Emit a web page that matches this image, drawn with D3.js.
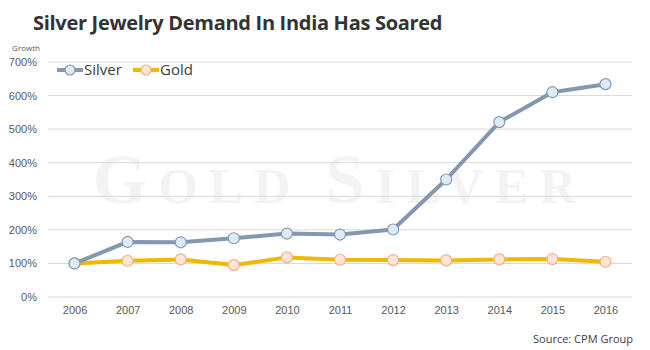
<!DOCTYPE html>
<html>
<head>
<meta charset="utf-8">
<script src="https://cdn.jsdelivr.net/npm/d3@7"></script>
<style>
  body { margin: 0; background: #fff; }
  svg { display: block; font-family: "Open Sans", "Noto Sans", sans-serif; }
</style>
</head>
<body>
<svg id="chart" width="650" height="350"></svg>
<script>
const years = ["2006", "2007", "2008", "2009", "2010", "2011", "2012", "2013", "2014", "2015", "2016"];
const silver = [100, 164, 163, 175, 189, 186, 201, 350, 521, 610, 634];
const gold = [100, 108, 112, 95, 118, 111, 110, 109, 112, 113, 105];
const yTicks = [0, 100, 200, 300, 400, 500, 600, 700];

const svg = d3.select("#chart"),
    margin = { top: 62, right: 18, bottom: 53, left: 48 },
    width = +svg.attr("width") - margin.left - margin.right,
    height = +svg.attr("height") - margin.top - margin.bottom;

// watermark behind everything
const wm = svg.append("text")
    .attr("x", 340)
    .attr("y", 203)
    .attr("text-anchor", "middle")
    .style("font-family", "'Liberation Serif', 'DejaVu Serif', serif")
    .style("font-weight", "bold")
    .style("letter-spacing", "11px")
    .style("fill", "#f3f3f3");
[["G", 70], ["OLD ", 51], ["S", 70], ["ILVER", 51]].forEach(([t, s]) => {
    wm.append("tspan").style("font-size", s + "px").text(t);
});

const chart = svg.append("g").attr("transform", `translate(${margin.left},${margin.top})`);

const x = d3.scalePoint().domain(years).range([0, width]).padding(0.5);
const y = d3.scaleLinear().domain([0, 700]).range([height, 0]);

// gridlines
chart.append("g")
    .selectAll("line")
    .data(yTicks)
    .join("line")
    .attr("x1", 0)
    .attr("x2", width)
    .attr("y1", d => y(d))
    .attr("y2", d => y(d))
    .style("stroke", "#d9d9d9")
    .style("stroke-width", 1);

const yAxis = chart.append("g")
    .call(d3.axisLeft(y).tickValues(yTicks).tickFormat(d => d + "%").tickSize(0).tickPadding(11));
yAxis.select(".domain").remove();
yAxis.selectAll("text").style("font-size", "11px").style("fill", "#595959");

const xAxis = chart.append("g")
    .attr("transform", `translate(0,${height})`)
    .call(d3.axisBottom(x).tickSize(0).tickPadding(9));
xAxis.select(".domain").remove();
xAxis.selectAll("text").style("font-size", "11px").style("fill", "#595959");

const series = [
    { name: "Silver", values: silver, line: "#8497b0", fill: "#deebf7", stroke: "#8497b0" },
    { name: "Gold", values: gold, line: "#f2b800", fill: "#fbe5d6", stroke: "#f4b183" }
];

const line = d3.line()
    .x((d, i) => x(years[i]))
    .y(d => y(d));

series.slice().reverse().forEach(s => {
    chart.append("path")
        .datum(s.values)
        .attr("d", line)
        .style("fill", "none")
        .style("stroke", s.line)
        .style("stroke-width", 4)
        .style("stroke-linejoin", "round");

    chart.selectAll(".pt-" + s.name)
        .data(s.values)
        .join("circle")
        .attr("class", "pt-" + s.name)
        .attr("cx", (d, i) => x(years[i]))
        .attr("cy", d => y(d))
        .attr("r", 5.5)
        .style("fill", s.fill)
        .style("stroke", s.stroke)
        .style("stroke-width", 1.2);
});

// legend
const legend = svg.append("g").attr("transform", "translate(57,70)");
[0, 1].forEach(i => {
    const s = series[i];
    const g = legend.append("g").attr("transform", `translate(${i * 76},0)`);
    g.append("line")
        .attr("x1", 0).attr("x2", 26)
        .style("stroke", s.line)
        .style("stroke-width", 4);
    g.append("circle")
        .attr("cx", 13).attr("r", 5)
        .style("fill", s.fill)
        .style("stroke", s.stroke)
        .style("stroke-width", 1.2);
    g.append("text")
        .attr("x", 27).attr("y", 5)
        .style("font-size", "15px")
        .style("fill", "#404040")
        .text(s.name);
});

svg.append("text")
    .attr("x", 33)
    .attr("y", 30)
    .style("font-size", "20px")
    .style("font-weight", "bold")
    .style("letter-spacing", "-0.3px")
    .style("fill", "#333")
    .text("Silver Jewelry Demand In India Has Soared");

svg.append("text")
    .attr("x", 26)
    .attr("y", 51)
    .attr("text-anchor", "middle")
    .style("font-size", "8px")
    .style("fill", "#595959")
    .text("Growth");

svg.append("text")
    .attr("x", 633)
    .attr("y", 343)
    .attr("text-anchor", "end")
    .style("font-size", "11px")
    .style("fill", "#404040")
    .text("Source: CPM Group");
</script>
</body>
</html>
